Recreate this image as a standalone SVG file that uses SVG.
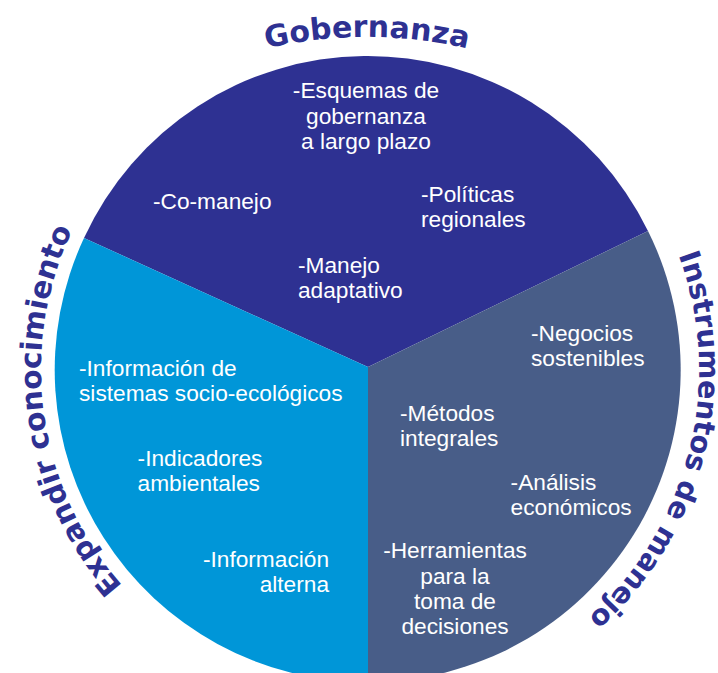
<svg xmlns="http://www.w3.org/2000/svg" width="718" height="673" viewBox="0 0 718 673">
<style>
.t{font-family:"Liberation Sans",Arial,sans-serif;font-size:22.7px;fill:#ffffff}
.m{text-anchor:middle}
.e{text-anchor:end}
.h{font-family:"DejaVu Sans","Liberation Sans",sans-serif;font-weight:bold;fill:#2e3192;text-anchor:middle}
</style>
<defs>
<path id="arcTop" d="M 67 154 A 443 443 0 0 1 667 154"/>
<path id="arcLeft" d="M 244.9 672.3 A 326 326 0 0 1 166.3 113.1"/>
<path id="arcRight" d="M 597.6 131.2 A 332 332 0 0 1 458.5 689.2"/>
</defs>
<rect width="718" height="673" fill="#ffffff"/>
<g id="sector-gobernanza">
<path d="M 368 367 L 84 238 A 312 312 0 0 1 648 231 Z" fill="#2e3192"/>
<text class="t m" x="366" y="98">-Esquemas de</text>
<text class="t m" x="366" y="123.5">gobernanza</text>
<text class="t m" x="366" y="149">a largo plazo</text>
<text class="t" x="153" y="209">-Co-manejo</text>
<text class="t" x="421" y="202">-Políticas</text>
<text class="t" x="421" y="227">regionales</text>
<text class="t" x="298" y="273">-Manejo</text>
<text class="t" x="298" y="298">adaptativo</text>
</g>
<g id="sector-expandir">
<path d="M 368 367 L 368 682 A 312 312 0 0 1 84 238 Z" fill="#0096d8"/>
<text class="t" x="79" y="376">-Información de</text>
<text class="t" x="79" y="401">sistemas socio-ecológicos</text>
<text class="t" x="137.6" y="465.5">-Indicadores</text>
<text class="t" x="137.6" y="490.5">ambientales</text>
<text class="t e" x="329" y="567">-Información</text>
<text class="t e" x="329" y="592">alterna</text>
</g>
<g id="sector-instrumentos">
<path d="M 368 367 L 648 231 A 312 312 0 0 1 368 682 Z" fill="#485d88"/>
<text class="t" x="531" y="341">-Negocios</text>
<text class="t" x="531" y="366">sostenibles</text>
<text class="t" x="400" y="420.5">-Métodos</text>
<text class="t" x="400" y="445.5">integrales</text>
<text class="t" x="510.6" y="490">-Análisis</text>
<text class="t" x="510.6" y="515">económicos</text>
<text class="t m" x="455" y="558">-Herramientas</text>
<text class="t m" x="455" y="583.5">para la</text>
<text class="t m" x="455" y="609">toma de</text>
<text class="t m" x="455" y="634">decisiones</text>
</g>
<g id="labels">
<text class="h" font-size="30"><textPath href="#arcTop" startOffset="50%">Gobernanza</textPath></text>
<text class="h" font-size="29.5"><textPath href="#arcLeft" startOffset="50%">Expandir conocimiento</textPath></text>
<text class="h" font-size="28.8"><textPath href="#arcRight" startOffset="50%">Instrumentos de manejo</textPath></text>
</g>
</svg>
